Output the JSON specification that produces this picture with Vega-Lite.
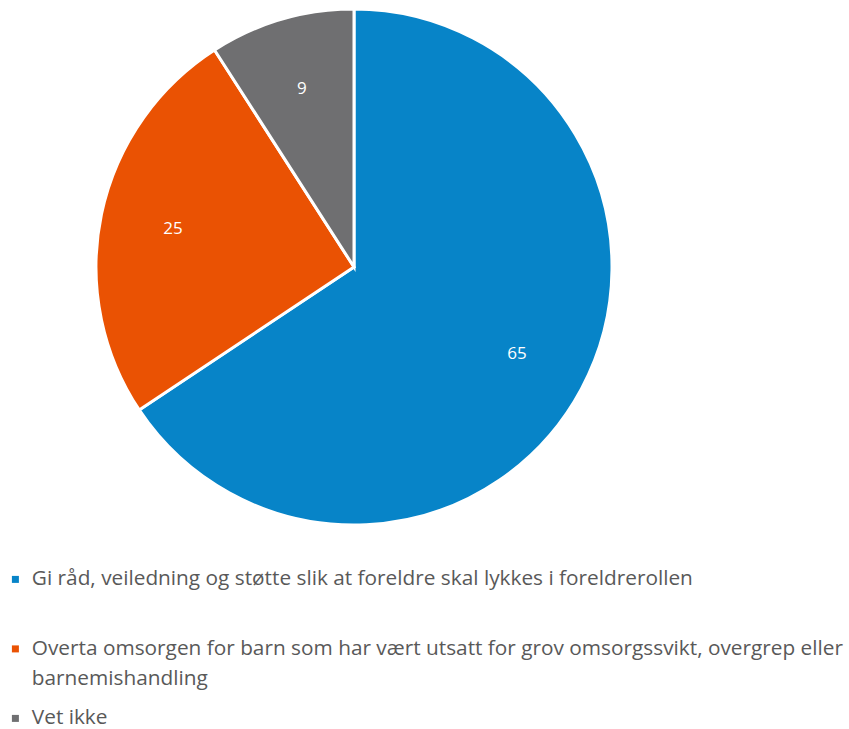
{
  "$schema": "https://vega.github.io/schema/vega-lite/v6.json",
  "width": 708,
  "height": 534,
  "autosize": {"type": "none"},
  "padding": {"left": 0, "top": 0, "right": 141, "bottom": 195},
  "background": "white",
  "config": {
    "view": {"stroke": null},
    "style": {"guide-label": {"lineHeight": 30, "dy": -10}}
  },
  "data": {
    "values": [
      {"kategori": "Gi råd, veiledning og støtte slik at foreldre skal lykkes i foreldrerollen|", "andel": 65, "rekkefolge": 1},
      {"kategori": "Overta omsorgen for barn som har vært utsatt for grov omsorgssvikt, overgrep eller|barnemishandling", "andel": 25, "rekkefolge": 2},
      {"kategori": "Vet ikke", "andel": 9, "rekkefolge": 3}
    ]
  },
  "encoding": {
    "theta": {"field": "andel", "type": "quantitative", "stack": true},
    "order": {"field": "rekkefolge", "type": "quantitative"}
  },
  "layer": [
    {
      "mark": {"type": "arc", "outerRadius": 258, "stroke": "white", "strokeWidth": 3},
      "encoding": {
        "color": {
          "field": "kategori",
          "type": "nominal",
          "sort": null,
          "scale": {
            "domain": [
              "Gi råd, veiledning og støtte slik at foreldre skal lykkes i foreldrerollen|",
              "Overta omsorgen for barn som har vært utsatt for grov omsorgssvikt, overgrep eller|barnemishandling",
              "Vet ikke"
            ],
            "range": ["#0784C8", "#EA5203", "#6F6F71"]
          },
          "legend": {
            "title": null,
            "orient": "none",
            "legendX": 5,
            "legendY": 569,
            "padding": 0,
            "symbolType": "square",
            "symbolSize": 49,
            "symbolStrokeWidth": 0,
            "labelFont": "Open Sans",
            "labelFontSize": 20.8,
            "labelColor": "#595959",
            "labelLimit": 0,
            "labelOffset": 6,
            "rowPadding": 17.5,
            "labelExpr": "split(datum.label, '|')",
            "labelBaseline": "top"
          }
        }
      }
    },
    {
      "mark": {"type": "text", "radius": 185, "fill": "white", "fontSize": 17, "font": "Open Sans"},
      "encoding": {"text": {"field": "andel", "type": "quantitative"}}
    }
  ]
}
